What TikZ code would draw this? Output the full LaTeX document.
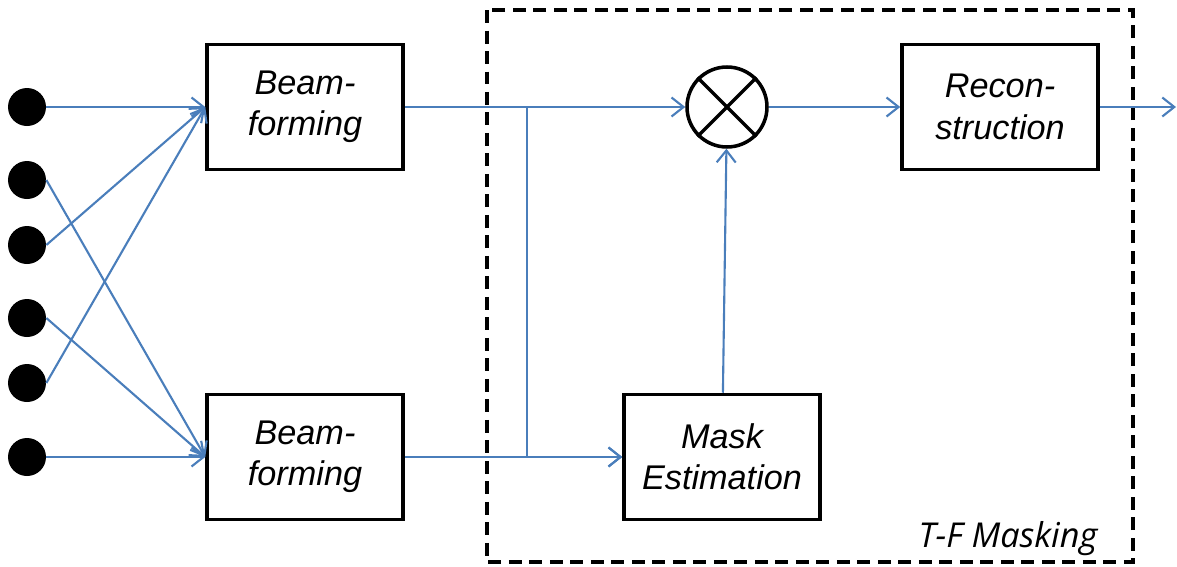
\documentclass[tikz,border=0pt]{standalone}
\usepackage{fontspec}
\setmainfont{Liberation Sans}
\newfontfamily\tffont{Open Sans}
\usepackage{tikz}
\usetikzlibrary{arrows.meta,positioning}
\definecolor{sigblue}{RGB}{74,126,187}
\tikzset{
  blk/.style={draw,line width=2pt,minimum width=3.92cm,minimum height=2.5cm,
    align=center,font=\fontsize{19.5}{23.5}\selectfont\itshape},
  mic/.style={circle,fill=black,minimum size=0.76cm,inner sep=0pt},
  sig/.style={sigblue,line width=1.2pt,-{Straight Barb[length=0.24cm,width=0.38cm,line width=1.2pt]}},
}

\begin{document}
\begin{tikzpicture}
      \useasboundingbox (0,0) rectangle (23.54,-11.34);
      \node[mic] (m1) at (0.54,-2.14) {};
      \node[mic] (m2) at (0.54,-3.6) {};
      \node[mic] (m3) at (0.54,-4.9) {};
      \node[mic] (m4) at (0.54,-6.36) {};
      \node[mic] (m5) at (0.54,-7.66) {};
      \node[mic] (m6) at (0.54,-9.14) {};

      \node[blk] (bf1) at (6.1,-2.14) {Beam-\\forming};
      \node[blk] (bf2) at (6.1,-9.14) {Beam-\\forming};
      \node[circle,draw,line width=2pt,minimum size=1.6cm] (mul) at (14.54,-2.14) {};
      \node[blk] (rec) at (20,-2.14) {Recon-\\struction};
      \node[blk] (mask) at (14.44,-9.14) {Mask\\Estimation};
      \coordinate (out) at (23.52,-2.14);
      \coordinate (br) at (10.54,-2.14);
      \coordinate (bm) at (10.54,-9.14);

      \draw[line width=2pt] (mul.north east) -- (mul.south west);
      \draw[line width=2pt] (mul.north west) -- (mul.south east);
      \draw[line width=2.2pt,dash pattern=on 0.26cm off 0.15cm] (9.74,-0.2) rectangle (22.66,-11.24);
      \node[font=\tffont\fontsize{19.5}{23}\selectfont\itshape] (tf) at (20.16,-10.78) {T-F Masking};

      \draw[sig] (m1) -- (bf1.west);
      \draw[sig] (m3.east) -- (bf1.west);
      \draw[sig] (m5.east) -- (bf1.west);
      \draw[sig] (m2.east) -- (bf2.west);
      \draw[sig] (m4.east) -- (bf2.west);
      \draw[sig] (m6) -- (bf2.west);

      \draw[sig] (bf1) -- (mul);
      \draw[sig] (br) -- (bm) -- (mask.west);
      \draw[sig] (bf2) -- (mask);
      \draw[sig] (mask) -- (mul);
      \draw[sig] (mul) -- (rec);
      \draw[sig] (rec) -- (out);
    \end{tikzpicture}
\end{document}
